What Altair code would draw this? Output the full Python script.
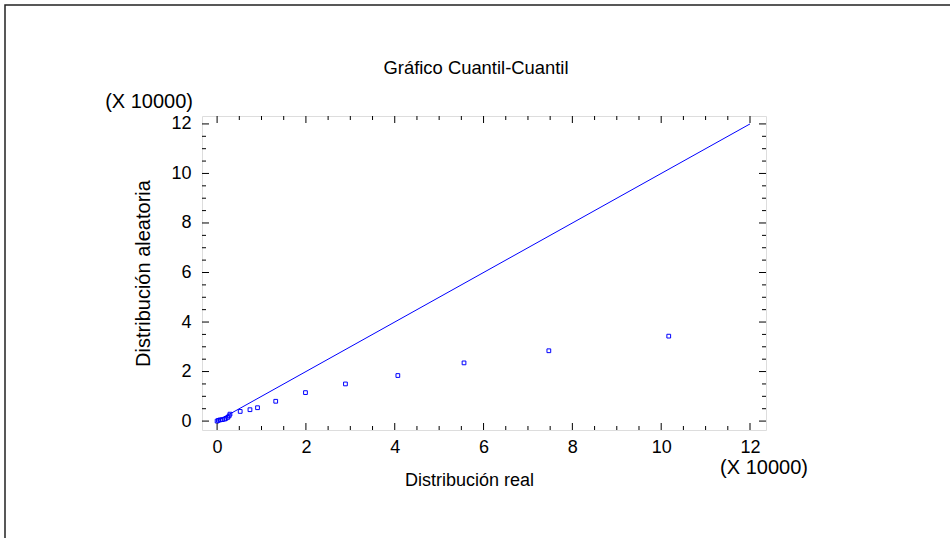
import altair as alt
import pandas as pd

# Quantiles (in units of 10000)
real_q = [0.00, 0.03, 0.07, 0.12, 0.17, 0.20, 0.24, 0.27, 0.29,
          0.52, 0.74, 0.91, 1.32, 1.99, 2.89, 4.07, 5.56, 7.47, 10.17]
random_q = [0.00, 0.03, 0.05, 0.06, 0.08, 0.11, 0.15, 0.21, 0.28,
            0.39, 0.46, 0.54, 0.80, 1.15, 1.50, 1.84, 2.35, 2.84, 3.43]

# Reference diagonal y = x
diag_x = [0, 12]
diag_y = [0, 12]

major_ticks = [0, 2, 4, 6, 8, 10, 12]
minor_ticks = [v / 2 for v in range(0, 25) if v % 4 != 0]

W, H = 564, 314
FONT = "Liberation Sans"
BLUE = "#0000ff"

points = pd.DataFrame({"real": real_q, "aleatoria": random_q})
diag = pd.DataFrame({"real": diag_x, "aleatoria": diag_y})
majors = pd.DataFrame({"v": major_ticks})
minors = pd.DataFrame({"v": minor_ticks})

xscale = alt.Scale(domain=[-0.34, 12.36], nice=False, zero=False)
yscale = alt.Scale(domain=[-0.36, 12.32], nice=False, zero=False)

xaxis = alt.Axis(values=major_ticks, ticks=False, domain=False, grid=False,
                 labelFont=FONT, labelFontSize=18, labelColor="black",
                 labelPadding=8, title="Distribución real", titleFont=FONT,
                 titleFontSize=18, titleFontWeight="normal", titleColor="black",
                 titleX=267, titleY=50, titleBaseline="middle", titleAlign="center")
yaxis = alt.Axis(values=major_ticks, ticks=False, domain=False, grid=False,
                 labelFont=FONT, labelFontSize=18, labelColor="black",
                 labelPadding=11, title="Distribución aleatoria", titleFont=FONT,
                 titleFontSize=20, titleFontWeight="normal", titleColor="black",
                 titleX=-59, titleY=157, titleAngle=270, titleBaseline="middle",
                 titleAlign="center")

line = alt.Chart(diag).mark_line(color=BLUE, strokeWidth=1).encode(
    x=alt.X("real:Q", scale=xscale, axis=xaxis),
    y=alt.Y("aleatoria:Q", scale=yscale, axis=yaxis),
)

pts = alt.Chart(points).mark_square(filled=False, color=BLUE, size=14,
                                    strokeWidth=1, opacity=1).encode(
    x=alt.X("real:Q", scale=xscale),
    y=alt.Y("aleatoria:Q", scale=yscale),
)


def tick_layers(df, length):
    """Inward-pointing ticks on all four sides of the frame."""
    base = alt.Chart(df).mark_rule(color="black", strokeWidth=1)
    return [
        base.encode(x=alt.X("v:Q", scale=xscale), y=alt.value(H), y2=alt.value(H - length)),
        base.encode(x=alt.X("v:Q", scale=xscale), y=alt.value(0), y2=alt.value(length)),
        base.encode(y=alt.Y("v:Q", scale=yscale), x=alt.value(0), x2=alt.value(length)),
        base.encode(y=alt.Y("v:Q", scale=yscale), x=alt.value(W), x2=alt.value(W - length)),
    ]


ticks = tick_layers(majors, 7) + tick_layers(minors, 4)

# Chart title
title_df = pd.DataFrame({"t": ["Gráfico Cuantil-Cuantil"]})
title = alt.Chart(title_df).mark_text(font=FONT, fontSize=18.4, color="black",
                                      align="center", baseline="middle").encode(
    text="t:N", x=alt.value(274), y=alt.value(-48))

# Exponent notes for both axes
note = pd.DataFrame({"t": ["(X 10000)"]})
note_y = alt.Chart(note).mark_text(font=FONT, fontSize=20, color="black",
                                   align="right", baseline="middle").encode(
    text="t:N", x=alt.value(-9), y=alt.value(-14))
note_x = alt.Chart(note).mark_text(font=FONT, fontSize=20, color="black",
                                   align="center", baseline="middle").encode(
    text="t:N", x=alt.value(562), y=alt.value(352))

# Outer page border
frame = alt.Chart(note).mark_rect(fill=None, stroke="#222222", strokeWidth=1.5).encode(
    x=alt.value(-197), x2=alt.value(W + 200), y=alt.value(-111), y2=alt.value(H + 120))

chart = alt.layer(frame, line, pts, *ticks, title, note_y, note_x).properties(
    width=W, height=H,
    autosize=alt.AutoSizeParams(type="none"),
    padding={"left": 202, "top": 116, "right": 184, "bottom": 108},
).configure_view(stroke="black", strokeWidth=1.5).configure(background="white")

chart.save("out.html", embed_options={"renderer": "svg", "actions": False})
